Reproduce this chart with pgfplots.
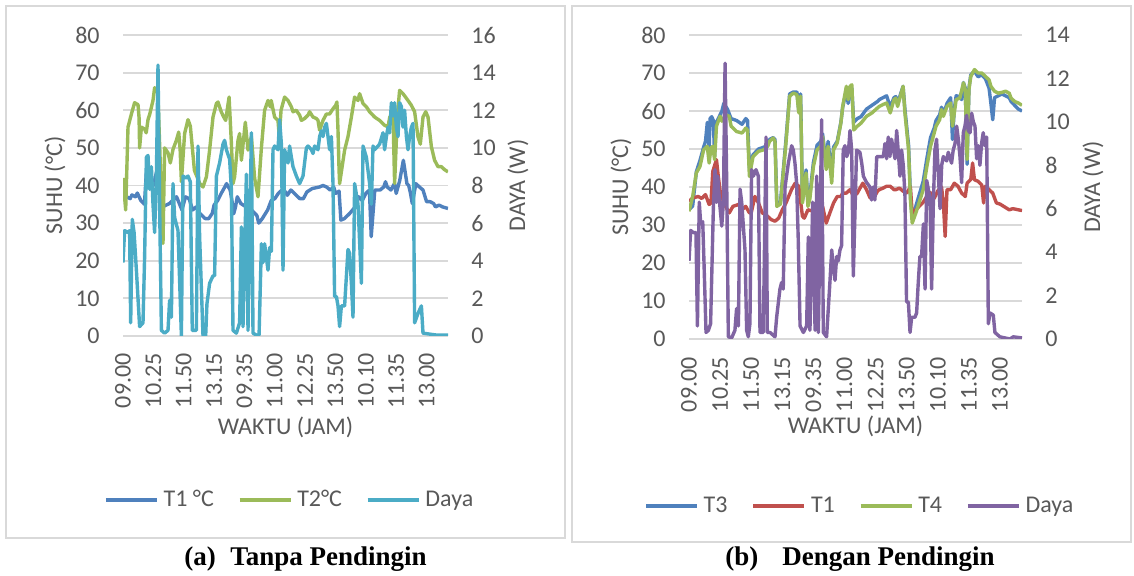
\documentclass[border=0pt]{standalone}
\usepackage{pgfplots}
\pgfplotsset{compat=1.18}
\usepackage{fontspec}
\setmainfont{Carlito}
\newfontfamily\capfont{Liberation Serif}

\definecolor{txt}{HTML}{595959}
\definecolor{gridc}{HTML}{D9D9D9}
\definecolor{cblue}{HTML}{4F81BD}
\definecolor{cred}{HTML}{C0504D}
\definecolor{cgreen}{HTML}{9BBB59}
\definecolor{cpurple}{HTML}{8064A2}
\definecolor{caqua}{HTML}{4BACC6}

\newcommand{\cf}{\fontsize{12}{14}\selectfont\color{txt}}

\pgfplotsset{
  base/.style={
    scale only axis, anchor=south west,
    enlargelimits=false, xmin=0, xmax=182,
    axis line style={draw=none}, tick style={draw=none},
    /pgf/number format/assume math mode=true,
    tick label style={font=\cf},
  },
  leftax/.style={
    base, ymin=0, ymax=80, ytick={0,10,...,80},
    ymajorgrids, grid style={gridc, line width=0.9pt},
    yticklabel style={anchor=east, inner xsep=11.5pt, inner ysep=0pt},
    xtick={0,17,...,170},
    xticklabels={09.00,10.25,11.50,13.15,09.35,11.00,12.25,13.50,10.10,11.35,13.00},
    xticklabel style={rotate=90, anchor=east, inner xsep=#1, inner ysep=0pt},
  },
  rightax/.style={
    base, xtick=\empty, yticklabel pos=right,
    yticklabel style={anchor=west, inner xsep=11.5pt, inner ysep=0pt},
    legend style={draw=none, fill=none, legend columns=-1, font=\cf,
      /tikz/every odd column/.style={column sep=2.5pt},
      /tikz/every even column/.style={column sep=12pt},
      nodes={inner sep=0pt}},
    legend image code/.code={\draw[##1] (0pt,0pt) -- (25.5pt,0pt);},
  },
  ln/.style={line width=1.7pt, line join=round},
}

\begin{document}
\begin{tikzpicture}
\fill[white] (0,0) rectangle (567pt,288pt);
\draw[gridc, line width=0.75pt] (3pt,19pt) rectangle (282.5pt,285pt);
\draw[gridc, line width=0.75pt] (286pt,17pt) rectangle (565.5pt,285pt);

% ---------- (a) Tanpa Pendingin ----------
\begin{axis}[leftax=8.5pt, at={(61.5pt,120pt)}, width=162.5pt, height=150.5pt]
\addplot[ln, cblue] coordinates {
(0,36) (2,37) (4,36.5) (5,37.5) (7,37) (8,38) (10,36) (12,35) (13,43) (14,45) (15,41) (17,40) (19,44) (21,36)
(22,34.3) (26,35.2) (30,37) (33,33.5) (35,37) (37,36.5) (39,33.5) (41,34.3) (43,32.6) (46,31.2) (48,31.2)
(50,32.6) (51,34.8) (53,36) (55,37.9) (57,39.6) (58,40.5) (60,38.8) (61,36) (62,32.5) (63,34.3) (64,37)
(66,35.2) (69,34.3) (72,33.5) (75,32) (76,30) (78,31.2) (81,33.5) (83,36) (85,36.5) (87,37.9) (89,38.8)
(91,38.3) (92,37.4) (94,38.8) (96,37.9) (99,36.5) (101,36.5) (103,38.3) (106,39.2) (110,39.6) (112,40)
(114,39.6) (116,38.8) (118,39.6) (119,37.9) (121,38.5) (122,30.8) (124,31.2) (127,32.6) (130,34.3) (132,37)
(134,36) (136,37.9) (138,38.8) (139,26.4) (141,38.8) (144,38.8) (146,39.6) (147,41) (148,39.6) (150,38.8)
(152,40.5) (153,37.9) (155,41.4) (157,46.7) (159,40.5) (160,40) (161,37.9) (162,35.2) (164,40.5) (166,39.6)
(168,38.8) (170,35.7) (172,35.7) (174,35.2) (175,34.3) (177,34.8) (179,34.3) (182,33.9)
};
\addplot[ln, cgreen] coordinates {
(0,42) (1.5,33.5) (2.8,55.5) (4.7,59) (6.5,62) (8.4,61.5) (9,58) (9.3,50) (10.3,55.5) (12.1,55) (13,54)
(14,57.5) (15,59) (16.8,62.6) (17.7,66) (18.7,65) (19.5,65) (22.4,24.6) (23.3,50) (25.2,48.7) (26.5,46)
(28,49.6) (29.9,52) (31.2,54.2) (32,49.5) (32.7,41) (34.5,53.8) (36.4,57.5) (37.7,55.8) (40,44) (43,40.5)
(44.8,39.6) (46.7,42.3) (48.5,49.4) (50.4,58.2) (52.3,61.8) (53.2,62.2) (55,59.6) (56.4,58.2) (57.5,57.3)
(59.4,63.5) (60.7,51.2) (61.6,40.5) (62.5,42.3) (64.4,52) (65.3,53.8) (66.3,46.7) (68.5,56.8) (70,49.4)
(71.9,53) (73.7,42) (75.6,37) (77.5,50) (79.3,60) (81.2,62.6) (82.5,60.9) (83,62.6) (84.9,58.2) (86.8,57.3)
(87.5,53) (88.5,60) (90.5,63.5) (92.4,62.6) (94.3,60.9) (95.2,59.6) (97,60) (98.9,58.7) (99.9,57.3)
(101.7,57.8) (103.6,58.7) (104.5,59.6) (106.4,58.2) (108.3,57.8) (109.2,57.3) (110.1,54.7) (112,57.3)
(113.9,59) (115.7,59) (117.6,60.4) (119.1,61.3) (119.8,62.2) (120.4,54.7) (121,44) (121.3,40.5) (124.1,49.4)
(126,53) (127.9,58.2) (129.7,63.5) (131.6,62.6) (132.5,64.4) (134.4,61.8) (136.3,60.9) (138.1,59.6)
(140.9,58.2) (143.7,57.3) (146.5,56) (148.4,55.6) (149.4,58.2) (151.2,59) (152.1,40.5) (153.6,58.2)
(154.9,65.3) (156.8,64.4) (159.6,62.6) (161.5,61.3) (163.3,59.6) (165.2,52.9) (166.5,51) (168,58.2)
(169.5,59.6) (170.8,58.2) (172.7,50.3) (174.5,46.7) (176.4,45) (178.3,45) (180.1,44.2) (182,43.6)
};
\end{axis}
\begin{axis}[rightax, at={(61.5pt,120pt)}, width=162.5pt, height=150.5pt,
  ymin=0, ymax=16, ytick={0,2,...,16},
  legend style={at={(0.51,-0.545)}, anchor=center}]
\addlegendimage{ln, cblue}\addlegendentry{T1 °C}
\addlegendimage{ln, cgreen}\addlegendentry{T2°C}
\addplot[ln, caqua] coordinates {
(0,3.9) (0.9,5.6) (2.8,5.5) (3.7,5.6) (4.3,0.7) (5.2,6.2) (6.2,5.5) (7.5,3.5) (9.3,0.5) (11.2,0.7) (12.1,4.2)
(13.1,9.5) (14,9.6) (14.9,7.8) (15.9,9) (16.8,7) (17.7,5.5) (18.7,8.5) (19.6,14.4) (20.5,7) (21.5,0.3)
(23.3,0.15) (25.2,0.3) (26.1,1.9) (27.1,1) (28,8.1) (28.9,6.3) (30.8,5.6) (32.7,0) (33.6,8.5) (35.1,8.4)
(36.4,8.5) (37.7,8.2) (38.8,0.3) (41.1,0.3) (42,10.1) (42.9,5.3) (44.8,0) (46.3,0) (47,1.7) (48.5,2.8)
(50.4,3.2) (51.3,3.2) (52.3,8.5) (54.1,9.2) (56,10.2) (56.9,10.4) (57.9,9.9) (59.7,9.4) (60.7,7.8) (61.6,0.3)
(63.5,0.15) (65.3,0.7) (66.3,5.8) (67.2,0.5) (69.1,8.6) (70,0.3) (71.9,10.8) (72.8,0.15) (74.7,0.05)
(76.2,0.05) (77.5,4.9) (78.4,3.9) (79.3,4.9) (81.2,3.5) (82.1,4.7) (83.1,4.5) (84,9.9) (84.9,10.1) (86.8,9.9)
(87.7,11.5) (88.7,10.2) (89.6,3.5) (90.5,9.9) (92.4,9.2) (93.3,10.1) (94.3,9.5) (95.2,9) (97.1,8.5) (98.9,8.1)
(100.8,8.5) (102.7,10) (103.6,10.1) (105.5,9.9) (106.4,9.7) (107.3,10.1) (108.3,10) (109.2,9.9) (110.1,10.6)
(111.1,10.9) (112,10.6) (112.9,11.1) (113.9,11.3) (114.8,10.6) (115.7,9.9) (116.7,10.6) (117.6,8.1)
(118.5,2.1) (119.5,2.1) (120.4,1.6) (121.3,0.5) (122.3,1.6) (124.1,1.6) (126,4.6) (126.9,4.4) (127.9,2.8)
(128.8,1) (129.7,8.1) (131.6,7) (133.5,2.8) (134.4,10.1) (136.3,9.5) (138.1,8.1) (139.1,7) (140,10.1)
(140.9,9.9) (142.8,10.1) (143.7,10.2) (145.6,10.8) (146.5,9.9) (147.5,10.6) (148.4,11.1) (149.3,10.8)
(150.3,12.4) (151.2,11.7) (152.1,12.4) (153.1,11.1) (154,10.6) (154.9,12.4) (155.9,12.2) (156.8,11.1)
(157.7,12) (158.7,10.6) (159.6,9.9) (160.5,10.6) (161.5,11.1) (162.4,11.3) (163.3,0.7) (165.2,1.2)
(167.1,1.6) (168,0.15) (171.7,0.1) (175.5,0.05) (182,0.05)
};
\addlegendentry{Daya}
\end{axis}

% ---------- (b) Dengan Pendingin ----------
\begin{axis}[leftax=9pt, at={(344.5pt,118.5pt)}, width=166.5pt, height=152pt]
\addplot[ln, cblue] coordinates {
(0,34) (2,35) (4,44) (6,47) (8,50.5) (9,52) (10,57) (11,50) (11.5,58) (12.4,58.5) (13.3,57.5) (14,48)
(14.6,55) (15,57) (17,59) (18,60) (19,62) (21,60.5) (23,58) (26,57.5) (29,56.5) (31,58) (32,57.5) (33,45)
(35,48.5) (38,50) (41,50.5) (43,51) (44,52.5) (46,53) (47,52.5) (48,35.5) (50,36) (52,47) (53,52.5)
(55,64.5) (57,65) (59,65) (60,60) (61,64.5) (62,36.5) (63,40) (64,44.5) (65,35.5) (66,37.5) (68,46.5)
(70,51) (72,52) (73,54) (75,46) (76,52) (78,43) (79,50.5) (81,52) (83,57) (84,61) (86,65.5) (87,62)
(88,65.5) (89,66) (90,57) (92,58) (94,58.5) (97,60.5) (100,61.5) (103,62.5) (104,63) (106,63.5) (108,64)
(110,61) (112,63.5) (113,63.8) (114,62) (116,65) (117,66.5) (118,60.5) (120,51) (121,38) (122,31.5)
(124,35) (128,41.5) (130,47.5) (132,53) (134,55.5) (135,57.5) (137,59) (138,61) (139,59) (141,62)
(143,63.5) (144,52.5) (145,60.5) (146,64) (148,63.8) (149,63) (150,67.5) (151,66) (152,46) (153,66)
(154,69.5) (156,70.5) (158,69) (160,69.5) (162,68.5) (164,66) (165,62) (166,57.7) (167,63.5) (169,64)
(171,64.5) (173,64) (175,63.5) (176,62.5) (178,61.5) (180,60.5) (182,60)
};
\addplot[ln, cred] coordinates {
(0,36.2) (2,37.1) (5,37.5) (7,37) (9,38) (11,35.4) (12,35.8) (13,44.1) (15,47.2) (16,42.8) (17,39)
(19,35.8) (21,34) (22,33.2) (24,34.9) (27,35.4) (29,34) (31,34.9) (33,33.2) (34,33.2) (36,37.5) (38,35.8)
(40,33.2) (42,32.7) (45,31.4) (47,31) (49,31.8) (51,34) (53,35.8) (56,39.3) (58,41) (60,40.2) (62,32.3)
(63,31.8) (65,34) (68,33.6) (70,33.2) (72,33.2) (73,34.9) (75,30.5) (77,33.2) (79,35.8) (81,37.5)
(83,37.5) (84,38.4) (86,38.4) (88,39.3) (90,37.5) (92,38.4) (93,39.3) (95,41) (97,39.3) (99,37.1)
(101,37.1) (103,38.9) (104,39.3) (106,39.7) (108,40.2) (110,40.2) (112,39.3) (113,39.3) (115,39.7)
(117,38.9) (119,38.4) (121,40) (122,33) (124,34) (126,35) (128,36) (130,37.5) (132,38.5) (134,37)
(136,39) (138,40) (139,36) (140,27) (141,39.3) (143,39.3) (145,41) (147,40.2) (149,38.4) (151,37.5)
(152,41) (154,42) (155,46.3) (156,41.9) (158,41.5) (160,40.5) (161,35.8) (162,40.2) (164,39.3) (166,38.4)
(168,35.8) (170,35.5) (172,34.9) (175,34) (177,34.3) (180,34) (182,33.8)
};
\addplot[ln, cgreen] coordinates {
(0,33.6) (2,37.5) (4,43.7) (6,45.4) (8,49.8) (10,50.7) (11,46.3) (12,50.3) (13,50.7) (14,47.2) (15,56)
(17,58.6) (18,57.3) (20,59) (22,58.6) (23,56) (26,54.6) (29,54.2) (31,55.5) (32,55) (33,42.8) (35,48)
(38,49.4) (41,49.8) (43,50.7) (44,52) (46,52.9) (47,52) (48,34.9) (50,35.5) (52,46.3) (53,51.6) (55,63.9)
(57,64.7) (59,64.3) (60,59.5) (61,63.9) (62,35.8) (63,39.3) (64,43.7) (65,34.9) (66,36.7) (68,45.4)
(70,49.8) (72,50.7) (73,53.3) (75,44.6) (76,50.7) (78,41) (79,49.8) (81,51.6) (83,56.8) (84,61.2)
(86,66.5) (87,63) (88,66.5) (89,66.9) (90,55) (92,56) (94,56.8) (97,58.6) (100,59.5) (103,60.8) (104,61.2)
(106,61.7) (108,62.1) (110,59.5) (112,63) (113,63.4) (114,61.2) (116,64.7) (117,66.5) (118,59.5)
(120,49.8) (121,36.7) (122,30.5) (124,33.2) (128,39.3) (130,45.4) (132,50.7) (134,54.2) (135,56)
(137,57.7) (138,60.4) (139,58.6) (141,61.2) (143,62.1) (144,56) (145,59.5) (146,63) (148,63.4) (150,67.4)
(151,65.6) (152,47.2) (153,65.6) (154,69.1) (156,70.9) (158,70) (160,70) (162,69.1) (164,68.2) (165,66.5)
(167,65.2) (169,64.7) (171,64.9) (173,65.2) (175,64.7) (176,63.4) (178,62.5) (180,62.1) (182,61.5)
};
\end{axis}
\begin{axis}[rightax, at={(344.5pt,118.5pt)}, width=166.5pt, height=152pt,
  ymin=0, ymax=14, ytick={0,2,...,14},
  legend style={at={(0.51,-0.549)}, anchor=center}]
\addlegendimage{ln, cblue}\addlegendentry{T3}
\addlegendimage{ln, cred}\addlegendentry{T1}
\addlegendimage{ln, cgreen}\addlegendentry{T4}
\addplot[ln, cpurple] coordinates {
(0,3.6) (0.9,5) (2.4,4.9) (3.8,4.9) (4.6,0.6) (5.6,6.3) (6.4,5.3) (7.5,5.4) (8.2,3.5) (9.3,0.3) (10.6,0.4)
(11.8,0.7) (13.3,6) (14.2,7.8) (15.1,6.3) (15.7,7.5) (16.9,6.1) (17.9,5.2) (18.8,6.3) (19.7,12.7) (20.6,7.2)
(21.5,0.1) (23.3,0.05) (25.1,0.4) (26,1.4) (27,0.6) (27.9,6.9) (28.8,6.3) (30.6,4.1) (31.5,0.4) (32.4,0.1)
(33.3,0.7) (34.2,7.8) (35.2,7.5) (36.6,7.8) (37.9,7.5) (38.8,0.3) (40.6,0.3) (42.1,9.3) (42.8,0.3)
(44.3,0.3) (47,0.1) (47.9,1) (49.7,2.3) (50.6,2.6) (51.5,2.3) (52.5,7) (54.3,8.1) (56.1,8.9) (57,8.7)
(57.9,8.1) (58.8,7.2) (59.7,4.6) (60.7,0.6) (62.5,0.3) (64.3,0.6) (65.2,4.7) (66.1,0.4) (67.6,6.3)
(68.9,0.4) (69.8,7.5) (70.7,0.3) (72.5,10.1) (73.4,0.3) (75.2,0.1) (77,2.6) (78,4.1) (78.9,3.3) (79.8,2.7)
(80.7,3.8) (81.6,3.6) (82.5,4.1) (83.4,4.3) (84.3,8.7) (85.2,8.9) (86.2,8.4) (87.1,8.6) (88,9.6) (88.9,8.7)
(89.8,2.9) (91.6,8.7) (93.4,8.6) (94.4,8.1) (95.3,7.5) (97.1,7.2) (98.9,7) (99.8,6.4) (100.7,7) (101.6,6.4)
(102.6,8.4) (104.4,8.4) (106.2,8.4) (107.1,9) (108,8.3) (108.9,9.3) (109.8,8.4) (110.7,9.2) (112.6,8.3)
(113.5,9.6) (114.4,8.6) (115.3,7.5) (116.2,8.7) (117.1,8) (118,6.7) (118.9,1.7) (119.9,1.7) (120.8,0.3)
(121.7,1) (123.5,1) (124.4,1.2) (125.3,2.6) (126.2,3.8) (127.1,3.8) (128.1,5.3) (129,2.3) (129.9,7.3)
(131.7,6.5) (132.6,2.3) (133.5,6.1) (134.4,8.7) (135.3,9.2) (137.2,6) (138.1,8) (139,8.4) (140.8,8.2)
(141.7,8.6) (143.5,8.1) (144.4,8.7) (145.4,9) (146.3,9.8) (147.2,9.2) (148.1,8.4) (149,7.2) (149.9,9.5)
(150.8,9.8) (151.7,10.3) (152.6,9.6) (153.6,9.5) (154.5,10.4) (155.4,10) (156.3,9.8) (157.2,8.3)
(158.1,8.9) (159,8) (159.9,9) (160.8,9.5) (161.7,8.9) (162.7,9.3) (163.6,0.7) (164.5,1.2) (166.3,1.1)
(167.2,0.3) (169.9,0.1) (175.4,0) (177.2,0.1) (182,0.05)
};
\addlegendentry{Daya}
\end{axis}

% axis titles
\node[rotate=90, font=\cf] at (27.5pt,195.25pt) {SUHU (°C)};
\node[rotate=90, font=\cf] at (259pt,195.25pt) {DAYA (W)};
\node[font=\cf] at (142.75pt,74.5pt) {WAKTU (JAM)};
\node[rotate=90, font=\cf] at (310.5pt,194.5pt) {SUHU (°C)};
\node[rotate=90, font=\cf] at (546.5pt,194.5pt) {DAYA (W)};
\node[font=\cf] at (427.75pt,75pt) {WAKTU (JAM)};

% captions
\begin{scope}[every node/.style={font=\capfont\bfseries\fontsize{13.5}{16}\selectfont, inner sep=0pt}]
\node[anchor=base west] at (92pt,5pt) {(a)};
\node[anchor=base west] at (115pt,5pt) {Tanpa Pendingin};
\node[anchor=base west] at (362.5pt,5pt) {(b)};
\node[anchor=base west] at (391pt,5pt) {Dengan Pendingin};
\end{scope}
\end{tikzpicture}
\end{document}
